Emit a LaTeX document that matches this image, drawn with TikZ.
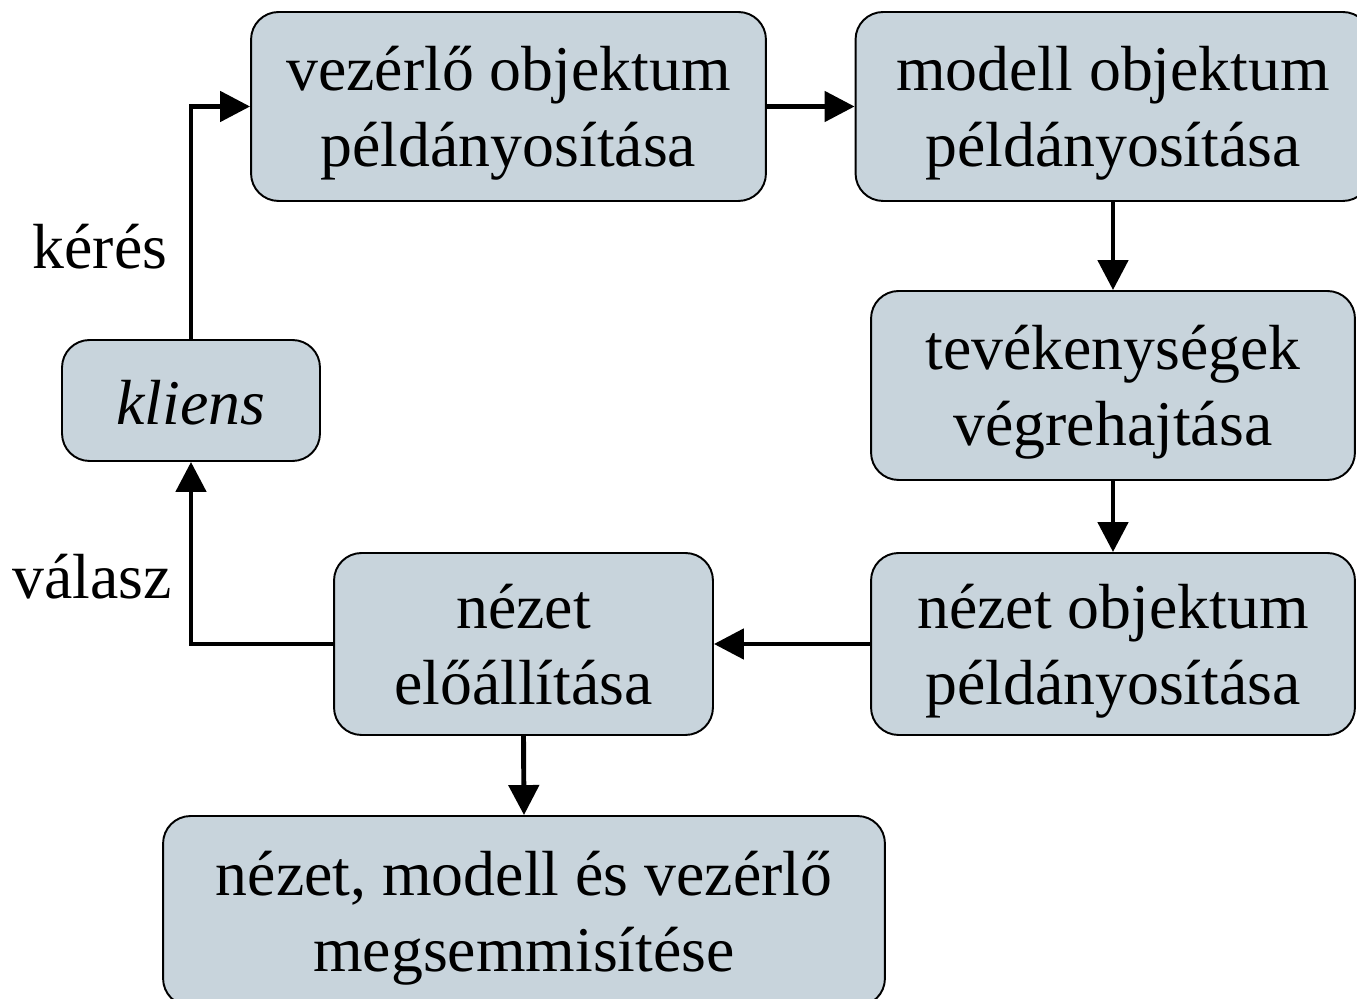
\documentclass[tikz,border=0pt]{standalone}
\usepackage{fontspec}
\setmainfont{Liberation Serif}
\usetikzlibrary{arrows.meta}

\definecolor{boxfill}{HTML}{C8D4DC}
% two centred lines, first baseline a little above the box centre
\newcommand{\boxlines}[2]{\raisebox{0.31cm}[0pt][0pt]{\begin{tabular}[t]{@{}c@{}}#1\\#2\end{tabular}}}

\begin{document}
\begin{tikzpicture}[x=0.02cm,y=-0.02cm,
    box/.style={draw=black,fill=boxfill,line width=1.1pt,rounded corners=0.55cm,
      inner sep=0pt,font=\fontsize{36.3}{43}\selectfont},
    flow/.style={line width=2.8pt,-{Triangle[length=0.6cm,width=0.6cm]}},
    lbl/.style={font=\fontsize{36.3}{43}\selectfont}]
    \useasboundingbox (0,0) rectangle (1357,999);
    \node[box,minimum width=10.3cm,minimum height=3.78cm] (vez) at (508.5,106.5) {\boxlines{vezérlő objektum}{példányosítása}};
    \node[box,minimum width=10.3cm,minimum height=3.78cm] (mod) at (1113,106.5) {\boxlines{modell objektum}{példányosítása}};
    \node[box,minimum width=9.68cm,minimum height=3.78cm] (tev) at (1113,385.5) {\boxlines{tevékenységek}{végrehajtása}};
    \node[box,minimum width=9.68cm,minimum height=3.64cm] (nob) at (1113,644) {\boxlines{nézet objektum}{példányosítása}};
    \node[box,minimum width=7.58cm,minimum height=3.64cm] (nel) at (523.5,644) {\boxlines{nézet}{előállítása}};
    \node[box,minimum width=5.16cm,minimum height=2.42cm] (kli) at (191,400.5) {\raisebox{-0.49cm}[0pt][0pt]{\itshape kliens}};
    \node[box,minimum width=14.44cm,minimum height=3.8cm] (meg) at (524,911) {\boxlines{nézet, modell és vezérlő}{megsemmisítése}};

    \node[lbl] (keres) at (100,247) {kérés};
    \node[lbl] (valasz) at (92,577) {válasz};

    \draw[flow] (kli.north) |- (vez.west);
    \draw[flow] (vez.east) -- (mod.west);
    \draw[flow] (mod.south) -- (tev.north);
    \draw[flow] (tev.south) -- (nob.north);
    \draw[flow] (nob.west) -- (nel.east);
    \draw[flow] (nel.west) -| (kli.south);
    \draw[flow] (nel.south) -- (meg.north);
\end{tikzpicture}
\end{document}
